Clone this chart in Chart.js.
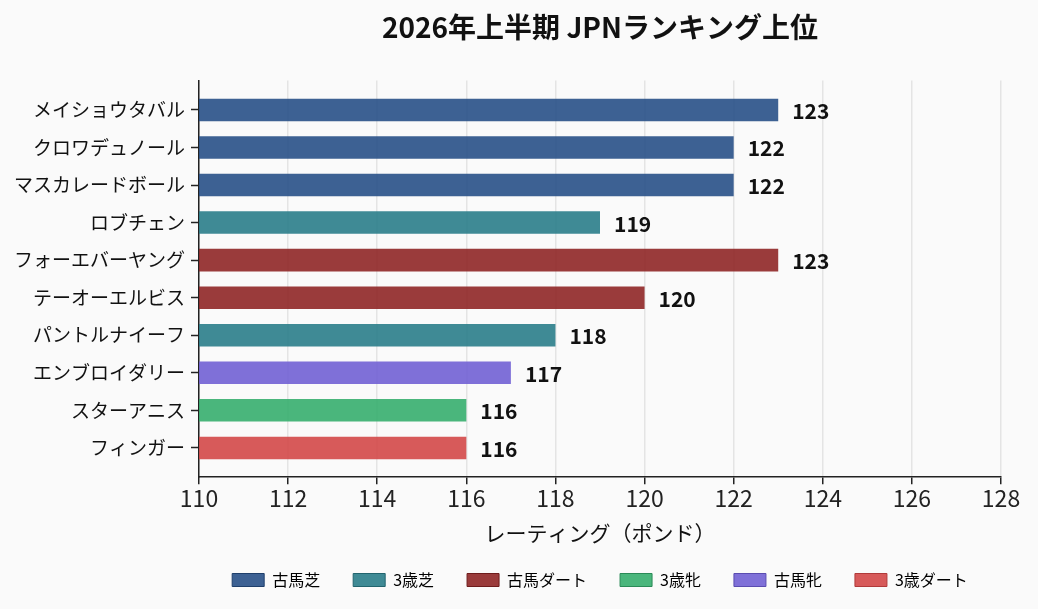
<!DOCTYPE html>
<html>
<head>
<meta charset="utf-8">
<script src="https://cdn.jsdelivr.net/npm/chart.js@4/dist/chart.umd.min.js"></script>
<style>
  html, body { margin: 0; padding: 0; background: #fafafa; }
  #wrap { width: 1038px; height: 609px; }
</style>
</head>
<body>
<div id="wrap"><canvas id="rankingChart"></canvas></div>
<script>
// data
const horses = ['メイショウタバル', 'クロワデュノール', 'マスカレードボール', 'ロブチェン', 'フォーエバーヤング',
  'テーオーエルビス', 'パントルナイーフ', 'エンブロイダリー', 'スターアニス', 'フィンガー'];
const ratings = [123, 122, 122, 119, 123, 120, 118, 117, 116, 116];
const groups = ['古馬芝', '古馬芝', '古馬芝', '3歳芝', '古馬ダート', '古馬ダート', '3歳芝', '古馬牝', '3歳牝', '3歳ダート'];
const categories = ['古馬芝', '3歳芝', '古馬ダート', '3歳牝', '古馬牝', '3歳ダート'];
const xTickMin = 110, xTickMax = 128, xTickStep = 2;

const fillColors = {
  '古馬芝': 'rgba(40, 80, 135, 0.9)',
  '3歳芝': 'rgba(42, 125, 138, 0.9)',
  '古馬ダート': 'rgba(143, 38, 38, 0.9)',
  '3歳牝': 'rgba(54, 174, 110, 0.9)',
  '古馬牝': 'rgba(113, 97, 212, 0.9)',
  '3歳ダート': 'rgba(211, 72, 72, 0.9)'
};
const edgeColors = {
  '古馬芝': '#1f3f6b',
  '3歳芝': '#22646e',
  '古馬ダート': '#6e1c1c',
  '3歳牝': '#2a8a57',
  '古馬牝': '#5a4cb0',
  '3歳ダート': '#b03a3a'
};

const FONT = '"Noto Sans CJK JP", "Noto Sans", sans-serif';

// value labels at the end of each bar
const valueLabels = {
  id: 'valueLabels',
  afterDatasetsDraw(chart) {
    const ctx = chart.ctx;
    const meta = chart.getDatasetMeta(0);
    ctx.save();
    ctx.font = '600 21px ' + FONT;
    ctx.fillStyle = '#111';
    ctx.textAlign = 'left';
    ctx.textBaseline = 'middle';
    meta.data.forEach((bar, i) => {
      ctx.fillText(String(ratings[i]), bar.x + 14, bar.y + 1);
    });
    ctx.restore();
  }
};

const ctx = document.getElementById('rankingChart').getContext('2d');
new Chart(ctx, {
  type: 'bar',
  data: {
    datasets: [{
      data: ratings.map((r, i) => ({ x: r, y: i })),
      backgroundColor: groups.map(g => fillColors[g]),
      borderWidth: 0,
      barPercentage: 0.6,
      categoryPercentage: 1
    }]
  },
  options: {
    indexAxis: 'y',
    responsive: true,
    maintainAspectRatio: false,
    animation: false,
    layout: { padding: { left: 0, right: 37, top: 0, bottom: 11 } },
    scales: {
      x: {
        type: 'linear',
        min: xTickMin,
        max: xTickMax,
        ticks: {
          stepSize: xTickStep,
          color: '#222',
          font: { family: FONT, size: 23 },
          padding: 0
        },
        grid: { color: '#e4e4e4', lineWidth: 1.5, tickColor: '#222', tickLength: 7, tickWidth: 1.5 },
        border: { display: true, color: '#222', width: 1.5 },
        title: {
          display: true,
          text: 'レーティング（ポンド）',
          color: '#111',
          font: { family: FONT, size: 21 },
          padding: { top: 9, bottom: -7 }
        }
      },
      y: {
        type: 'linear',
        reverse: true,
        offset: false,
        min: -0.78,
        max: horses.length - 1 + 0.78,
        afterBuildTicks(scale) {
          scale.ticks = horses.map((_, i) => ({ value: i }));
        },
        afterFit(scale) { scale.width = 199; },
        ticks: {
          callback: v => horses[v],
          color: '#111',
          font: { family: FONT, size: 19 },
          padding: 6
        },
        grid: { offset: false, drawOnChartArea: false, tickColor: '#222', tickLength: 8, tickWidth: 1.5 },
        border: { display: true, color: '#222', width: 1.5 }
      }
    },
    plugins: {
      title: {
        display: true,
        fullSize: false,
        text: '2026年上半期 JPNランキング上位',
        color: '#111',
        font: { family: FONT, size: 28, weight: 'bold' },
        padding: { top: 11, bottom: 36 }
      },
      legend: {
        position: 'bottom',
        fullSize: false,
        labels: {
          boxWidth: 32,
          boxHeight: 13,
          padding: 33,
          color: '#222',
          font: { family: FONT, size: 16 },
          generateLabels: () => categories.map(c => ({
            text: c,
            fillStyle: fillColors[c],
            strokeStyle: edgeColors[c],
            lineWidth: 1,
            hidden: false
          }))
        }
      },
      tooltip: { enabled: false }
    }
  },
  plugins: [valueLabels]
});
</script>
</body>
</html>
